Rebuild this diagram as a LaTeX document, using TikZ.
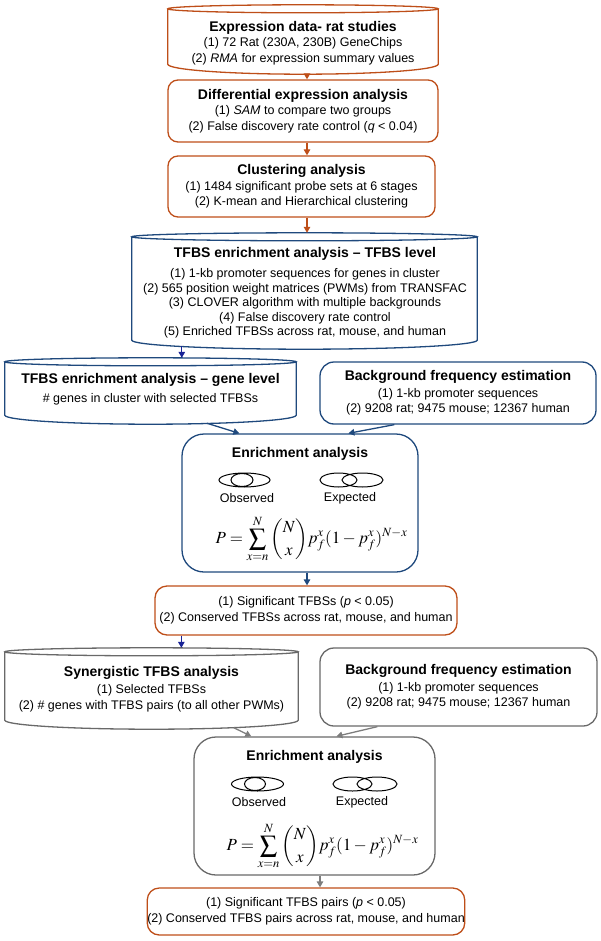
\documentclass[tikz,border=0pt]{standalone}
\usepackage{amsmath}
\usepackage{mathptmx}
\usepackage[no-math]{fontspec}
\setmainfont{Liberation Sans}
\usetikzlibrary{arrows.meta,calc}
\definecolor{org}{RGB}{190,78,25}
\definecolor{navy}{RGB}{31,73,125}
\definecolor{barr}{RGB}{25,35,150}
\definecolor{gbox}{RGB}{105,105,105}
\definecolor{garr}{RGB}{125,125,125}
\newcommand\bodyfont{\fontsize{12.5}{15.5}\selectfont}
\newcommand\ttl[1]{{\fontsize{14}{17}\selectfont\bfseries #1}}
\newcommand\cylout[4]{%
  \draw[#2, line width=1.3pt] let \p1=(#1.north west), \p2=(#1.south east), \n1={(\x2-\x1)/2} in
    ({(\x1+\x2)/2},{\y1-#3pt}) ellipse [x radius=\n1, y radius=#3pt]
    (\x1,{\y1-#3pt}) -- (\x1,{\y2+#4pt}) arc[start angle=180, end angle=360, x radius=\n1, y radius=#4pt] -- (\x2,{\y1-#3pt});
}
\newcommand\formula{\fontsize{17}{20}\selectfont$\displaystyle P=\sum_{x=n}^{N}\binom{N}{x}p_f^x(1-p_f^x)^{N-x}$}
\begin{document}
\begin{tikzpicture}[x=1pt,y=1pt,
  rbox/.style={draw, line width=1.3pt, align=center, inner sep=0pt, font=\bodyfont},
  txt/.style={align=center, inner sep=0pt, font=\bodyfont},
  shp/.style={inner sep=0pt, draw=none},
  arr/.style={line width=1.3pt, -{Triangle[length=6pt,width=6.5pt]}},
  venn/.style={black, line width=1pt}]
\useasboundingbox (0,0) rectangle (600,-941);

% A
\node[shp, minimum width=270pt, minimum height=69pt] (A) at (303,-39.5) {};
\cylout{A}{org}{4}{10}
\node[txt] (At) at (303,-43) {\ttl{Expression data- rat studies}\\(1) 72 Rat (230A, 230B) GeneChips\\(2) \textit{RMA} for expression summary values};

% B
\node[rbox, draw=org, rounded corners=10pt, minimum width=270pt, minimum height=62pt] (B) at (303,-111)
  {\ttl{Differential expression analysis}\\(1) \textit{SAM} to compare two groups\\(2) False discovery rate control (\textit{q} < 0.04)};

% C
\node[rbox, draw=org, rounded corners=10pt, minimum width=267pt, minimum height=61pt] (C) at (301.5,-186.5)
  {\ttl{Clustering analysis}\\(1) 1484 significant probe sets at 6 stages\\(2) K-mean and Hierarchical clustering};

% D
\node[shp, minimum width=345pt, minimum height=116pt] (D) at (304.5,-291) {};
\cylout{D}{navy}{4}{9}
\node[txt, font=\fontsize{12.5}{14.5}\selectfont] (Dt) at (305,-292.5) {\ttl{TFBS enrichment analysis -- TFBS level}\\[6pt]
 (1) 1-kb promoter sequences for genes in cluster\\
 (2) 565 position weight matrices (PWMs) from TRANSFAC\\
 (3) CLOVER algorithm with multiple backgrounds\\
 (4) False discovery rate control\\
 (5) Enriched TFBSs across rat, mouse, and human};

% E
\node[shp, minimum width=291pt, minimum height=66pt] (E) at (150.5,-391) {};
\cylout{E}{navy}{4}{9}
\node[txt] (Et) at (150.5,-389) {\ttl{TFBS enrichment analysis -- gene level}\\[3pt]\# genes in cluster with selected TFBSs};

% F
\node[rbox, draw=navy, rounded corners=14pt, minimum width=276pt, minimum height=62pt] (F) at (458,-393)
  {\ttl{Background frequency estimation}\\[1pt](1) 1-kb promoter sequences\\(2) 9208 rat; 9475 mouse; 12367 human};

% G
\node[shp, draw=navy, line width=1.3pt, rounded corners=22pt, minimum width=236pt, minimum height=138pt] (G) at (300,-503) {};
\node[txt] (Gt) at (300,-454) {\ttl{Enrichment analysis}};
\draw[venn] (244.5,-480) ellipse [x radius=25.5, y radius=7] (242,-480) ellipse [x radius=11, y radius=6.5];
\draw[venn] (338.5,-480) ellipse [x radius=18.5, y radius=7] (362.5,-480) ellipse [x radius=20.5, y radius=7];
\node[txt] (Go) at (247,-498) {Observed};
\node[txt] (Ge) at (350,-498) {Expected};
\node[inner sep=0pt] (Gf) at (311.5,-539) {\formula};

% H
\node[rbox, draw=org, rounded corners=12pt, minimum width=302pt, minimum height=49pt] (H) at (306,-610.5)
  {(1) Significant TFBSs (\textit{p} < 0.05)\\(2) Conserved TFBSs across rat, mouse, and human};

% I
\node[shp, minimum width=293pt, minimum height=81pt] (I) at (151.5,-688.5) {};
\cylout{I}{gbox}{4}{9}
\node[txt] (It) at (151.5,-689) {\ttl{Synergistic TFBS analysis}\\[1.5pt](1) Selected TFBSs\\(2) \# genes with TFBS pairs (to all other PWMs)};

% J
\node[rbox, draw=gbox, rounded corners=14pt, minimum width=277pt, minimum height=78pt] (J) at (458.5,-687)
  {\ttl{Background frequency estimation}\\[1pt](1) 1-kb promoter sequences\\(2) 9208 rat; 9475 mouse; 12367 human};

% K
\node[shp, draw=gbox, line width=1.3pt, rounded corners=22pt, minimum width=241pt, minimum height=138pt] (K) at (314.5,-806) {};
\node[txt] (Kt) at (314.5,-757) {\ttl{Enrichment analysis}};
\draw[venn] (257.5,-784) ellipse [x radius=26, y radius=7] (255,-784) ellipse [x radius=10.5, y radius=6.5];
\draw[venn] (352.5,-784) ellipse [x radius=19.5, y radius=7] (377,-784) ellipse [x radius=20, y radius=7];
\node[txt] (Ko) at (259,-802) {Observed};
\node[txt] (Ke) at (362,-802) {Expected};
\node[inner sep=0pt] (Kf) at (322.5,-846) {\formula};

% L
\node[rbox, draw=org, rounded corners=12pt, minimum width=300pt, minimum height=47pt] (L) at (306,-911.5)
  {(1) Significant TFBS pairs (\textit{p} < 0.05)\\(2) Conserved TFBS pairs across rat, mouse, and human};

% connectors
\coordinate (a1) at ([xshift=4pt]A.south);
\draw[arr, org] (a1) -- (a1 |- B.north);
\coordinate (b1) at ([xshift=4pt]B.south);
\draw[arr, org] (b1) -- (b1 |- C.north);
\coordinate (c1) at ([xshift=5.5pt]C.south);
\draw[arr, org] (c1) -- (c1 |- D.north);
\coordinate (d1) at ([xshift=50pt,yshift=3pt]D.south west);
\draw[arr, barr] (d1) -- (d1 |- E.north);
\coordinate (e1) at ([xshift=202pt,yshift=1pt]E.south west);
\draw[arr, navy] (e1) -- ([xshift=58pt]G.north west);
\coordinate (f1) at ([xshift=75pt]F.south west);
\draw[arr, navy] (f1) -- ([xshift=167pt]G.north west);
\coordinate (g1) at ([xshift=7pt]G.south);
\draw[arr, navy] (g1) -- (g1 |- H.north);
\coordinate (h1) at ([xshift=27pt]H.south west);
\draw[arr, barr] (h1) -- (h1 |- I.north);
\coordinate (i1) at ([xshift=229pt,yshift=1.5pt]I.south west);
\draw[arr, garr] (i1) -- ([xshift=58pt]K.north west);
\coordinate (j1) at ([xshift=58pt]J.south west);
\draw[arr, garr] (j1) -- ([xshift=143pt]K.north west);
\coordinate (k1) at ([xshift=5.5pt]K.south);
\draw[arr, garr] (k1) -- (k1 |- L.north);
\end{tikzpicture}
\end{document}
